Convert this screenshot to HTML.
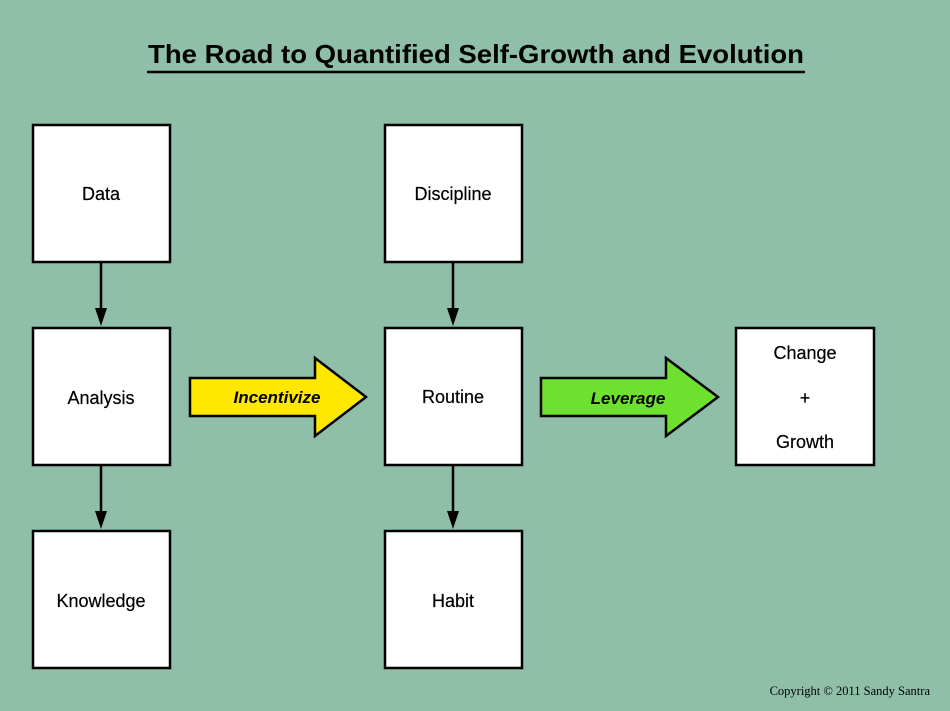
<!DOCTYPE html><html><head><style>body{margin:0}</style></head><body>
<svg width="950" height="711" xmlns="http://www.w3.org/2000/svg" style="display:block;font-family:'Liberation Sans',sans-serif">
<rect width="950" height="711" fill="#8fbfa8"/>
<text x="148" y="63" font-size="26" font-weight="bold" fill="#000" textLength="656" lengthAdjust="spacingAndGlyphs">The Road to Quantified Self-Growth and Evolution</text>
<line x1="147" y1="72" x2="805" y2="72" stroke="#000" stroke-width="2.5"/>
<g fill="#fff" stroke="#000" stroke-width="2.5">
<rect x="33" y="125" width="137" height="137"/>
<rect x="33" y="328" width="137" height="137"/>
<rect x="33" y="531" width="137" height="137"/>
<rect x="385" y="125" width="137" height="137"/>
<rect x="385" y="328" width="137" height="137"/>
<rect x="385" y="531" width="137" height="137"/>
<rect x="736" y="328" width="138" height="137"/>
</g>
<g stroke="#000" stroke-width="2.5">
<line x1="101" y1="262" x2="101" y2="310"/><line x1="101" y1="465" x2="101" y2="513"/>
<line x1="453" y1="262" x2="453" y2="310"/><line x1="453" y1="465" x2="453" y2="513"/>
</g>
<g fill="#000">
<polygon points="95,308 107,308 101,326"/><polygon points="95,511 107,511 101,529"/>
<polygon points="447,308 459,308 453,326"/><polygon points="447,511 459,511 453,529"/>
</g>
<polygon points="190,378 315,378 315,358 366,397 315,436 315,416 190,416" fill="#ffe800" stroke="#000" stroke-width="2.5"/>
<polygon points="541,378 666,378 666,358 718,397 666,436 666,416 541,416" fill="#6ee02e" stroke="#000" stroke-width="2.5"/>
<g font-size="18" text-anchor="middle" fill="#000" stroke="#000" stroke-width="0.2">
<text x="101" y="200">Data</text><text x="101" y="404">Analysis</text><text x="101" y="607">Knowledge</text>
<text x="453" y="200">Discipline</text><text x="453" y="403">Routine</text><text x="453" y="607">Habit</text>
<text x="805" y="359">Change</text><text x="805" y="404">+</text><text x="805" y="448">Growth</text>
</g>
<g font-size="17" font-weight="bold" font-style="italic" text-anchor="middle" fill="#000">
<text x="277" y="403">Incentivize</text><text x="628" y="404">Leverage</text>
</g>
<text x="930" y="695" text-anchor="end" font-size="12.5" font-family="'Liberation Serif',serif" fill="#000">Copyright © 2011 Sandy Santra</text>
</svg>
</body></html>
